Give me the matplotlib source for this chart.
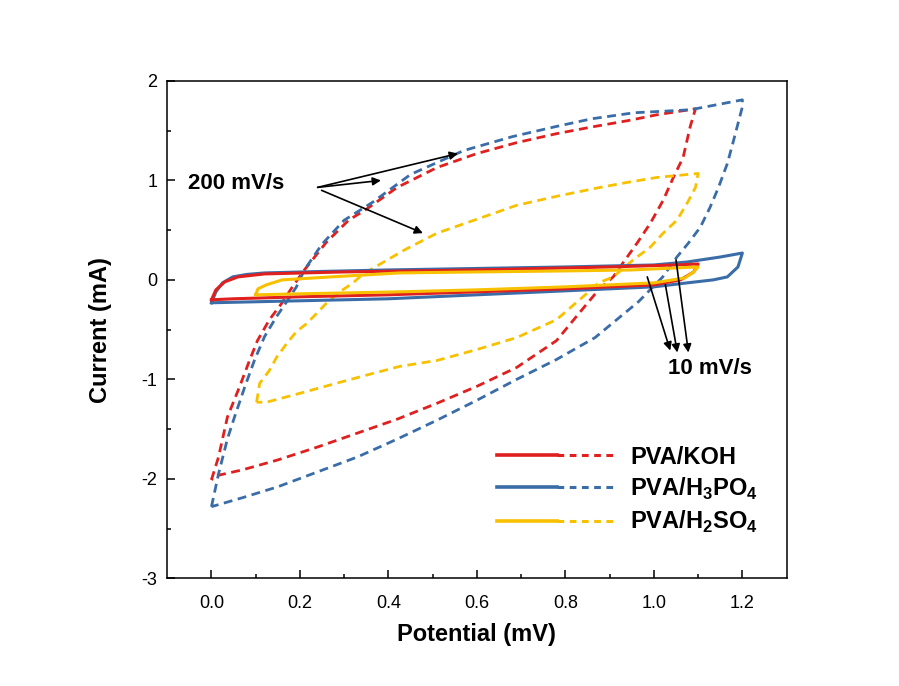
import matplotlib
matplotlib.use("Agg")
import matplotlib.pyplot as plt
from matplotlib.legend_handler import HandlerTuple
from matplotlib.lines import Line2D

plt.rcParams['font.family'] = ['Liberation Sans', 'DejaVu Sans']
plt.rcParams['mathtext.fontset'] = 'custom'
plt.rcParams['mathtext.bf'] = 'Liberation Sans:bold'
plt.rcParams['mathtext.rm'] = 'Liberation Sans:bold'
plt.rcParams['axes.unicode_minus'] = False

# colours
c_koh = '#E0201E'
c_h3po4 = '#3A6DA8'
c_h2so4 = '#F8C100'

# ---- 200 mV/s (dashed) ----
koh_fast_x = [0.0, 0.016, 0.036, 0.063, 0.086, 0.104, 0.131, 0.158, 0.183, 0.21, 0.26, 0.31, 0.35,
              0.42, 0.51, 0.6, 0.69, 0.78, 0.863, 0.94, 1.007, 1.094,
              1.082, 1.066, 1.044, 1.021, 0.992, 0.962, 0.93, 0.908, 0.875, 0.83, 0.78, 0.69, 0.6,
              0.51, 0.42, 0.33, 0.24, 0.15, 0.07, 0.01, 0.0]
koh_fast_y = [-2.01, -1.78, -1.38, -1.08, -0.81, -0.61, -0.40, -0.24, -0.07, 0.1, 0.38, 0.6, 0.71,
              0.93, 1.13, 1.27, 1.38, 1.47, 1.54, 1.60, 1.66, 1.72,
              1.54, 1.23, 1.03, 0.80, 0.57, 0.37, 0.17, 0.03, -0.1, -0.34, -0.61, -0.88, -1.07,
              -1.24, -1.4, -1.54, -1.68, -1.81, -1.91, -1.97, -2.01]

h3po4_fast_x = [0.0, 0.016, 0.036, 0.052, 0.075, 0.097, 0.12, 0.147, 0.17, 0.192, 0.21, 0.25, 0.3,
                0.364, 0.45, 0.57, 0.68, 0.777, 0.86, 0.955, 1.082, 1.2,
                1.2, 1.18, 1.166, 1.146, 1.127, 1.105, 1.078, 1.052, 1.02, 0.965, 0.935, 0.867,
                0.78, 0.69, 0.6, 0.51, 0.42, 0.33, 0.24, 0.15, 0.07, 0.0]
h3po4_fast_y = [-2.28, -1.95, -1.6, -1.38, -1.08, -0.81, -0.57, -0.37, -0.22, -0.07, 0.1, 0.36, 0.6,
                0.78, 1.06, 1.30, 1.44, 1.54, 1.62, 1.68, 1.71, 1.81,
                1.74, 1.4, 1.17, 0.93, 0.73, 0.53, 0.37, 0.23, 0.03, -0.22, -0.33, -0.58,
                -0.8, -1.0, -1.21, -1.41, -1.6, -1.78, -1.93, -2.08, -2.19, -2.28]

h2so4_fast_x = [0.102, 0.109, 0.131, 0.147, 0.17, 0.192, 0.215, 0.237, 0.263, 0.29, 0.32, 0.34, 0.37,
                0.44, 0.51, 0.6, 0.69, 0.78, 0.867, 0.94, 1.007, 1.1,
                1.094, 1.075, 1.052, 1.021, 0.992, 0.953, 0.908, 0.875, 0.85, 0.78, 0.69, 0.6,
                0.51, 0.425, 0.365, 0.29, 0.2, 0.124, 0.102]
h2so4_fast_y = [-1.23, -1.04, -0.91, -0.78, -0.64, -0.52, -0.44, -0.34, -0.22, -0.12, -0.03, 0.05, 0.13,
                0.31, 0.47, 0.61, 0.75, 0.84, 0.92, 0.98, 1.03, 1.07,
                0.93, 0.77, 0.6, 0.47, 0.33, 0.2, 0.03, -0.03, -0.13, -0.40, -0.58, -0.70,
                -0.81, -0.87, -0.94, -1.03, -1.14, -1.23, -1.23]

# ---- 10 mV/s (solid) ----
koh_slow_x = [0.0, 0.01, 0.03, 0.06, 0.12, 0.3, 0.6, 0.9, 1.05, 1.1,
              1.09, 1.06, 1.0, 0.8, 0.6, 0.4, 0.2, 0.05, 0.0]
koh_slow_y = [-0.2, -0.1, -0.02, 0.03, 0.06, 0.08, 0.1, 0.13, 0.15, 0.16,
              0.08, 0.0, -0.05, -0.09, -0.12, -0.15, -0.17, -0.19, -0.2]

h3po4_slow_x = [0.0, 0.01, 0.025, 0.048, 0.08, 0.12, 0.25, 0.4, 0.6, 0.8, 1.0, 1.075, 1.15, 1.2,
                1.19, 1.166, 1.134, 1.075, 1.0, 0.8, 0.6, 0.4, 0.2, 0.05, 0.0]
h3po4_slow_y = [-0.23, -0.12, -0.03, 0.03, 0.055, 0.07, 0.085, 0.1, 0.115, 0.13, 0.15, 0.18, 0.23, 0.27,
                0.13, 0.03, 0.0, -0.03, -0.07, -0.11, -0.15, -0.19, -0.21, -0.225, -0.23]

h2so4_slow_x = [0.1, 0.105, 0.124, 0.16, 0.27, 0.425, 0.6, 0.8, 0.95, 1.05, 1.1,
                1.09, 1.07, 1.0, 0.8, 0.6, 0.425, 0.2, 0.1]
h2so4_slow_y = [-0.15, -0.09, -0.05, 0.0, 0.03, 0.07, 0.08, 0.09, 0.1, 0.12, 0.13,
                0.08, 0.02, -0.03, -0.07, -0.1, -0.12, -0.14, -0.15]

legend_labels = ['PVA/KOH', r'PVA/H$_\mathbf{3}$PO$_\mathbf{4}$', r'PVA/H$_\mathbf{2}$SO$_\mathbf{4}$']

fig = plt.figure(figsize=(8.99, 6.86), dpi=100)
ax = fig.add_axes([0.186, 0.157, 0.689, 0.725])

lw = 2.0
dash = (3.2, 2)
ax.plot(koh_fast_x, koh_fast_y, color=c_koh, lw=lw, ls=(0, dash))
ax.plot(h3po4_fast_x, h3po4_fast_y, color=c_h3po4, lw=lw, ls=(0, dash))
ax.plot(h2so4_fast_x, h2so4_fast_y, color=c_h2so4, lw=lw, ls=(0, dash))
ax.plot(h3po4_slow_x, h3po4_slow_y, color=c_h3po4, lw=2.2)
ax.plot(koh_slow_x, koh_slow_y, color=c_koh, lw=2.2)
ax.plot(h2so4_slow_x, h2so4_slow_y, color=c_h2so4, lw=2.2)

ax.set_xlim(-0.1, 1.3)
ax.set_ylim(-3, 2)
ax.set_xticks([0.0, 0.2, 0.4, 0.6, 0.8, 1.0, 1.2])
ax.set_xticks([0.1, 0.3, 0.5, 0.7, 0.9, 1.1], minor=True)
ax.set_yticks([-3, -2, -1, 0, 1, 2])
ax.set_yticks([-2.5, -1.5, -0.5, 0.5, 1.5], minor=True)
ax.xaxis.set_major_formatter(plt.FormatStrFormatter('%.1f'))
ax.tick_params(which='both', direction='in', labelsize=13, width=1.1)
ax.tick_params(which='major', length=6)
ax.tick_params(which='minor', length=3)
ax.tick_params(axis='x', pad=12)
ax.tick_params(axis='y', pad=7)
for s in ax.spines.values():
    s.set_linewidth(1.1)

ax.set_xlabel('Potential (mV)', fontsize=17, fontweight='bold', labelpad=8)
ax.set_ylabel('Current (mA)', fontsize=17, fontweight='bold', labelpad=21)

# annotations
ax.text(-0.054, 0.97, '200 mV/s', fontsize=16, fontweight='bold', va='center', ha='left')
aprops = dict(arrowstyle='-|>', color='k', lw=1.2, mutation_scale=12, shrinkA=0, shrinkB=0)
ax.annotate('', xy=(0.557, 1.27), xytext=(0.24, 0.93), arrowprops=aprops)
ax.annotate('', xy=(0.383, 1.0), xytext=(0.24, 0.93), arrowprops=aprops)
ax.annotate('', xy=(0.478, 0.47), xytext=(0.249, 0.90), arrowprops=aprops)

ax.text(1.032, -0.89, '10 mV/s', fontsize=16, fontweight='bold', va='center', ha='left')
ax.annotate('', xy=(1.037, -0.71), xytext=(0.985, 0.03), arrowprops=aprops)
ax.annotate('', xy=(1.053, -0.73), xytext=(1.026, -0.05), arrowprops=aprops)
ax.annotate('', xy=(1.078, -0.73), xytext=(1.05, 0.2), arrowprops=aprops)

# legend: solid + dashed side by side
handles = []
for c in [c_koh, c_h3po4, c_h2so4]:
    h_solid = Line2D([], [], color=c, lw=2.6)
    h_dash = Line2D([], [], color=c, lw=2.2, ls=(0, (2.2, 1.8)))
    handles.append((h_solid, h_dash))
leg = ax.legend(handles, legend_labels, handler_map={tuple: HandlerTuple(ndivide=None, pad=0)},
                loc='upper left', bbox_to_anchor=(0.532, 0.267), frameon=False,
                handlelength=5.1, handletextpad=0.55, labelspacing=0.3,
                borderpad=0, borderaxespad=0,
                prop={'size': 17, 'weight': 'bold'})

fig.savefig('out.png', dpi=100)
